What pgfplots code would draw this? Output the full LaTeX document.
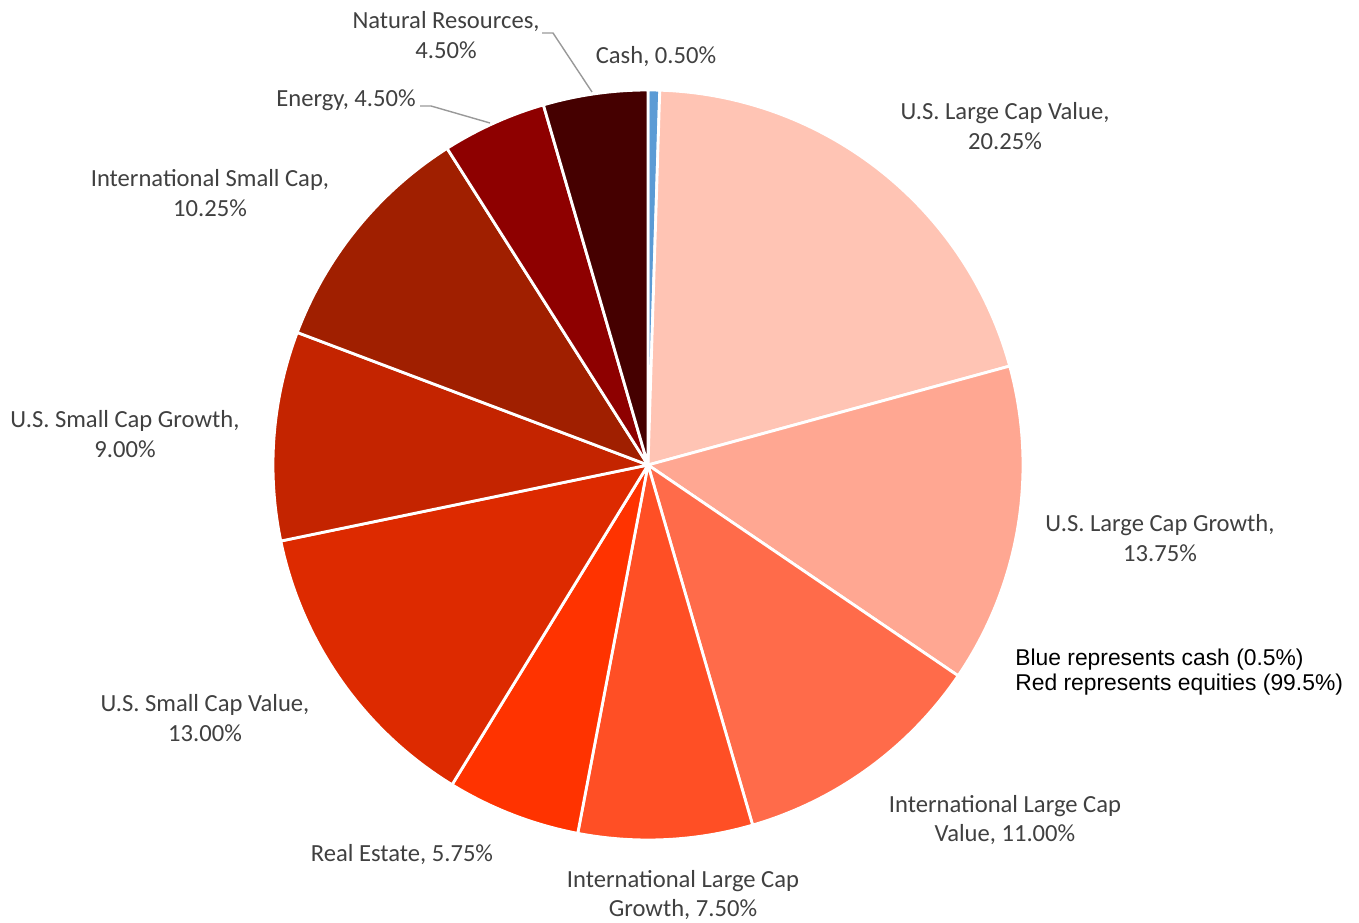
\documentclass[border=0pt]{standalone}
\usepackage{pgfplots}
\pgfplotsset{compat=1.18}
\usepackage{fontspec}
\setmainfont{Carlito}
\newfontfamily\arialf{Liberation Sans}
\definecolor{cUSLCV}{HTML}{FFC4B4}
\definecolor{cUSLCG}{HTML}{FFA792}
\definecolor{cILCV}{HTML}{FF6B4A}
\definecolor{cILCG}{HTML}{FF4F25}
\definecolor{cRE}{HTML}{FF3300}
\definecolor{cUSSCV}{HTML}{DD2A00}
\definecolor{cUSSCG}{HTML}{C42400}
\definecolor{cISC}{HTML}{A01F00}
\definecolor{cEN}{HTML}{8E0000}
\definecolor{cNR}{HTML}{450000}
\definecolor{cCash}{HTML}{5B9BD5}
\definecolor{lbl}{HTML}{404040}
\tikzset{lab/.style={font=\fontsize{14}{17}\selectfont, text=lbl, align=center, inner sep=0pt}}
% #1 = cumulative share before slice (%), #2 = share (%), #3 = colour
\newcommand{\pieslice}[3]{%
  \addplot[fill=#3, draw=white, line width=1.6pt, line join=round,
    domain={90-3.6*(#1+#2)}:{90-3.6*(#1)}, samples=80]
    ({648+375*cos(x)},{458+375*sin(x)}) -- (axis cs:648,458) -- cycle;
}
\begin{document}
\begin{tikzpicture}
\begin{axis}[
  hide axis, clip=false,
  x=0.2mm, y=0.2mm,
  xmin=0, xmax=1359, ymin=0, ymax=923,
]
\pieslice{0}{0.5}{cCash}
\pieslice{0.5}{20.25}{cUSLCV}
\pieslice{20.75}{13.75}{cUSLCG}
\pieslice{34.5}{11.00}{cILCV}
\pieslice{45.5}{7.50}{cILCG}
\pieslice{53}{5.75}{cRE}
\pieslice{58.75}{13.00}{cUSSCV}
\pieslice{71.75}{9.00}{cUSSCG}
\pieslice{80.75}{10.25}{cISC}
\pieslice{91}{4.50}{cEN}
\pieslice{95.5}{4.50}{cNR}
% leader lines
\draw[gray!80, line width=0.8pt] (axis cs:542,890) -- (axis cs:553,890) -- (axis cs:592,831);
\draw[gray!80, line width=0.8pt] (axis cs:420,817) -- (axis cs:431,817) -- (axis cs:490,800);
% labels
\node[lab] at (axis cs:446,888) {Natural Resources,\\4.50\%};
\node[lab] at (axis cs:656,866) {Cash, 0.50\%};
\node[lab] at (axis cs:346,823) {Energy, 4.50\%};
\node[lab] at (axis cs:210,730) {International Small Cap,\\10.25\%};
\node[lab] at (axis cs:1005,797) {U.S. Large Cap Value,\\20.25\%};
\node[lab] at (axis cs:125,489) {U.S. Small Cap Growth,\\9.00\%};
\node[lab] at (axis cs:1160,385) {U.S. Large Cap Growth,\\13.75\%};
\node[lab] at (axis cs:205,205) {U.S. Small Cap Value,\\13.00\%};
\node[lab] at (axis cs:1005,103) {International Large Cap\\Value, 11.00\%};
\node[lab] at (axis cs:402,68) {Real Estate, 5.75\%};
\node[lab] at (axis cs:683,28) {International Large Cap\\Growth, 7.50\%};
\node[anchor=west, align=left, inner sep=0pt, text=black, font=\arialf\fontsize{13}{13.8}\selectfont] at (axis cs:1015,251) {Blue represents cash (0.5\%)\\Red represents equities (99.5\%)};
\end{axis}
\pgfresetboundingbox
\path[use as bounding box] (current axis.south west) rectangle (current axis.north east);
\end{tikzpicture}
\end{document}
